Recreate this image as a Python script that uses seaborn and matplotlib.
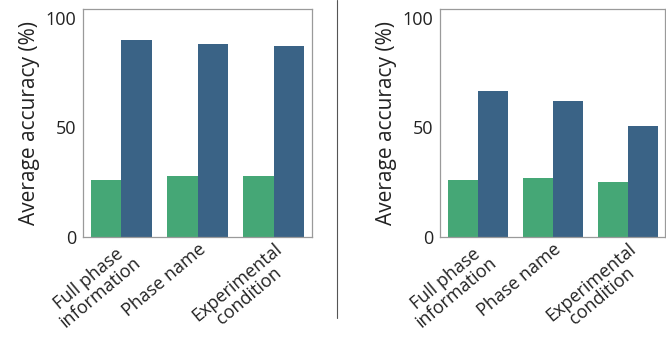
import pandas as pd
import seaborn as sns
import matplotlib.pyplot as plt
from matplotlib.lines import Line2D

# category labels shared by both panels
conditions = ["Full phase\ninformation", "Phase name", "Experimental\ncondition"]
groups = ["Baseline", "Model"]

# values (%)
left_baseline = [26, 28, 28]
left_model = [90, 88, 87]
right_baseline = [26, 27, 25]
right_model = [66.5, 62, 50.5]

palette = {"Baseline": "#45a776", "Model": "#3a6386"}


def to_long(base, model):
    return pd.DataFrame({
        "Condition": conditions * 2,
        "Group": [groups[0]] * 3 + [groups[1]] * 3,
        "Accuracy": base + model,
    })


sns.set_style("white")
plt.rcParams["font.family"] = ["Open Sans", "DejaVu Sans"]

fig = plt.figure(figsize=(6.66, 3.38), dpi=100)
ax1 = fig.add_axes([0.1246, 0.299, 0.344, 0.674])
ax2 = fig.add_axes([0.6607, 0.299, 0.338, 0.674])

for ax, (b, m) in zip([ax1, ax2], [(left_baseline, left_model), (right_baseline, right_model)]):
    df = to_long(b, m)
    sns.barplot(data=df, x="Condition", y="Accuracy", hue="Group", palette=palette,
                width=0.8, saturation=1, edgecolor="none", linewidth=0, ax=ax, legend=False)
    ax.set_ylim(0, 104)
    ax.set_xlim(-0.5, 2.5)
    ax.set_yticks([0, 50, 100])
    ax.set_ylabel("Average accuracy (%)", fontsize=15, color="#222222", labelpad=4)
    ax.set_xlabel("")
    ax.tick_params(axis="y", labelsize=13, length=3, width=0.6, color="#999999", pad=2, labelcolor="#222222")
    ax.tick_params(axis="x", length=0, pad=2)
    ax.set_xticks(range(3))
    ax.set_xticklabels(conditions, rotation=40, ha="right", rotation_mode="anchor",
                       fontsize=13, color="#222222", multialignment="center", linespacing=1.0)
    for s in ax.spines.values():
        s.set_color("#9a9a9a")
        s.set_linewidth(0.9)

# divider between the two panels
fig.add_artist(Line2D([0.506, 0.506], [0.06, 1.0], color="#555555", lw=0.8, transform=fig.transFigure))

fig.savefig("out.png", dpi=100)
